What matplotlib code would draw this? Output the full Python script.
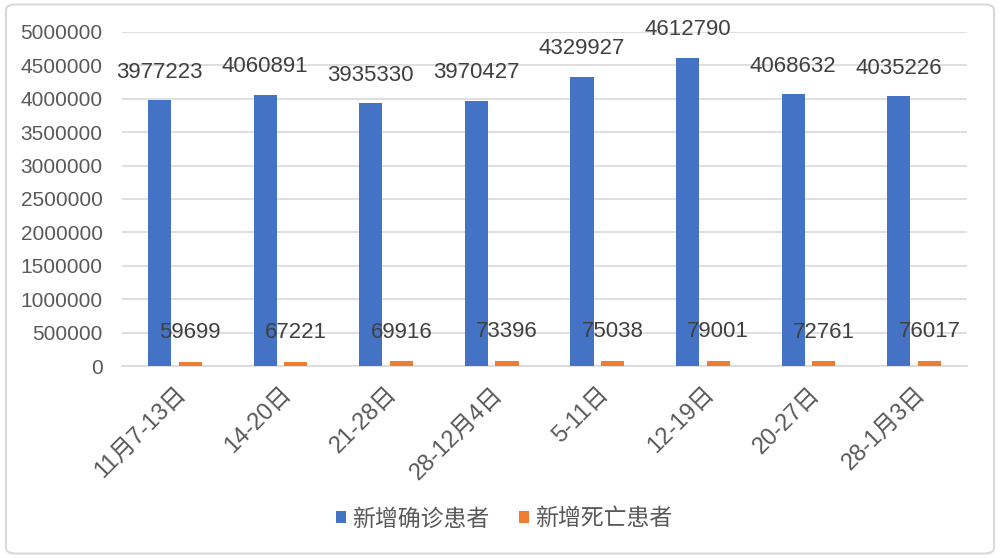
import matplotlib
matplotlib.use('Agg')
import matplotlib.pyplot as plt
import matplotlib.patches as patches
import numpy as np

plt.rcParams['font.family'] = ['Liberation Sans', 'Noto Sans CJK SC']

# Data
categories = ['11月7-13日', '14-20日', '21-28日', '28-12月4日', '5-11日', '12-19日', '20-27日', '28-1月3日']
confirmed = [3977223, 4060891, 3935330, 3970427, 4329927, 4612790, 4068632, 4035226]
deaths = [59699, 67221, 69916, 73396, 75038, 79001, 72761, 76017]
series_names = ['新增确诊患者', '新增死亡患者']

blue = '#4472c4'
orange = '#ed7d31'
text_color = '#595959'
label_color = '#404040'
grid_color = '#d9d9d9'

fig = plt.figure(figsize=(10, 5.58), dpi=100)
fig.patch.set_facecolor('white')

# Rounded outer border
border = patches.FancyBboxPatch((0.006, 0.008), 0.988, 0.984, boxstyle='round,pad=0,rounding_size=0.01',
                                transform=fig.transFigure, facecolor='none', edgecolor='#d9d9d9',
                                linewidth=1.5, zorder=-1)
fig.patches.append(border)

ax = fig.add_axes([0.122, 0.344, 0.845, 0.599])
ax.set_facecolor('none')

x = np.arange(len(categories))
w = 0.22
off = 0.145
b1 = ax.bar(x - off, confirmed, w, color=blue, zorder=3, label=series_names[0])
b2 = ax.bar(x + off, deaths, w, color=orange, zorder=3, label=series_names[1])

for rect, v in zip(b1, confirmed):
    ax.annotate(str(v), (rect.get_x() + rect.get_width() / 2, v), xytext=(0, 20),
                textcoords='offset points', ha='center', va='center', fontsize=16, color=label_color,
                zorder=4)
for rect, v in zip(b2, deaths):
    ax.annotate(str(v), (rect.get_x() + rect.get_width() / 2, v), xytext=(0, 21),
                textcoords='offset points', ha='center', va='center', fontsize=16, color=label_color,
                zorder=4)

ax.set_xlim(-0.5, len(categories) - 0.5)
ax.set_ylim(0, 5000000)
ax.set_yticks(np.arange(0, 5000001, 500000))
ax.set_yticklabels([str(v) for v in range(0, 5000001, 500000)])
ax.set_xticks(x)
ax.set_xticklabels(categories, rotation=45, ha='right', rotation_mode='anchor')

ax.tick_params(axis='both', length=0, labelsize=15, colors=text_color)
ax.tick_params(axis='x', labelsize=17, pad=12)
ax.tick_params(axis='y', pad=14)
ax.grid(axis='y', color=grid_color, linewidth=1.2, zorder=0)
for s in ['top', 'right', 'left']:
    ax.spines[s].set_visible(False)
ax.spines['bottom'].set_color(grid_color)
ax.spines['bottom'].set_linewidth(1.2)

leg = fig.legend(handles=[b1, b2], labels=series_names, loc='center', bbox_to_anchor=(0.504, 0.07),
                 ncol=2, frameon=False, fontsize=16.5, handlelength=0.45, handleheight=0.45,
                 handletextpad=0.25, columnspacing=1.3, labelcolor=text_color)

fig.savefig('out.png', dpi=100, facecolor='white')
